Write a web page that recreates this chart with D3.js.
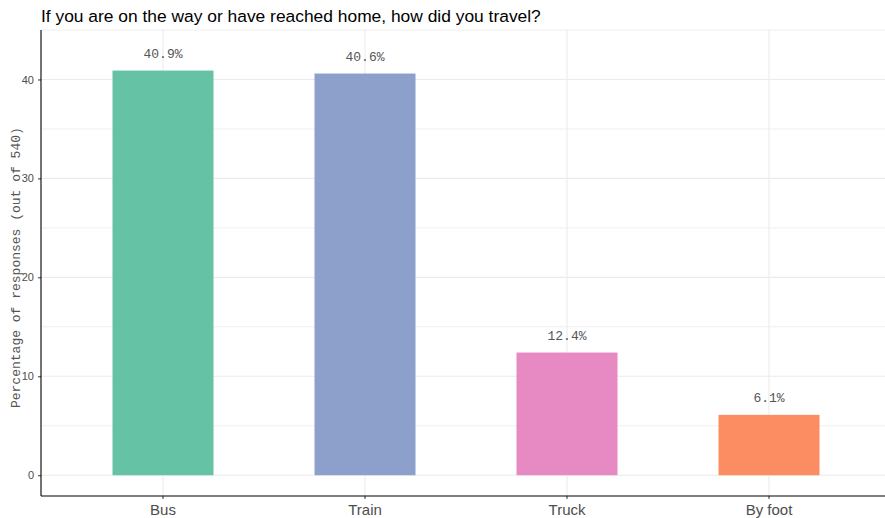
<!DOCTYPE html>
<html>
<head>
<meta charset="utf-8">
<script src="https://cdn.jsdelivr.net/npm/d3@7"></script>
<style>
  html, body { margin: 0; padding: 0; background: #fff; }
  svg { display: block; }
</style>
</head>
<body>
<svg id="chart" width="885" height="518"></svg>
<script>
const categories = ["Bus", "Train", "Truck", "By foot"];
const values = [40.9, 40.6, 12.4, 6.1];
const colors = ["#66c2a5", "#8da0cb", "#e78ac3", "#fc8d62"];
const yTicks = [0, 10, 20, 30, 40];
const yMinor = [5, 15, 25, 35, 45];
const title = "If you are on the way or have reached home, how did you travel?";
const yTitle = "Percentage of responses (out of 540)";

const svg = d3.select("#chart");
const panel = { left: 41, right: 885, top: 30, bottom: 496 };

const x = d3.scaleBand().domain(categories).range([62, 870]).paddingInner(0).paddingOuter(0);
const y = d3.scaleLinear().domain([-2.1, 45]).range([panel.bottom, panel.top]);

const grid = svg.append("g");
grid.selectAll(".hmin").data(yMinor).enter().append("line")
  .attr("x1", panel.left).attr("x2", panel.right)
  .attr("y1", d => y(d)).attr("y2", d => y(d))
  .attr("stroke", "#ebebeb").attr("stroke-width", 0.8);
grid.selectAll(".hmaj").data(yTicks).enter().append("line")
  .attr("x1", panel.left).attr("x2", panel.right)
  .attr("y1", d => y(d)).attr("y2", d => y(d))
  .attr("stroke", "#ebebeb").attr("stroke-width", 1.1);
grid.selectAll(".vmaj").data(categories).enter().append("line")
  .attr("x1", d => x(d) + x.bandwidth() / 2).attr("x2", d => x(d) + x.bandwidth() / 2)
  .attr("y1", panel.top).attr("y2", panel.bottom)
  .attr("stroke", "#ebebeb").attr("stroke-width", 1.1);

svg.append("g").selectAll("rect").data(categories).enter().append("rect")
  .attr("x", d => x(d) + x.bandwidth() * 0.25)
  .attr("width", x.bandwidth() * 0.5)
  .attr("y", (d, i) => y(values[i]))
  .attr("height", (d, i) => y(0) - y(values[i]))
  .attr("fill", (d, i) => colors[i]);

svg.append("g").selectAll("text").data(categories).enter().append("text")
  .attr("x", d => x(d) + x.bandwidth() / 2)
  .attr("y", (d, i) => y(values[i]) - 13)
  .attr("text-anchor", "middle")
  .attr("font-family", "'Liberation Mono', 'DejaVu Sans Mono', monospace")
  .attr("font-size", 13)
  .attr("fill", "#555555")
  .text((d, i) => values[i].toFixed(1) + "%");

const yAxis = d3.axisLeft(y).tickValues(yTicks).tickSize(3).tickPadding(4);
const gy = svg.append("g").attr("transform", `translate(${panel.left},0)`).call(yAxis);
gy.select(".domain").remove();
gy.selectAll(".tick line").attr("stroke", "#333").attr("stroke-width", 1);
gy.selectAll(".tick text").attr("font-family", "'Liberation Sans', Arial, sans-serif")
  .attr("font-size", 11).attr("fill", "#4d4d4d");
svg.append("line").attr("x1", panel.left).attr("x2", panel.left)
  .attr("y1", panel.top).attr("y2", panel.bottom)
  .attr("stroke", "#000").attr("stroke-width", 1.1);

const xAxis = d3.axisBottom(x).tickSize(3).tickPadding(5);
const gx = svg.append("g").attr("transform", `translate(0,${panel.bottom})`).call(xAxis);
gx.select(".domain").remove();
gx.selectAll(".tick line").attr("stroke", "#333").attr("stroke-width", 1);
gx.selectAll(".tick text").attr("font-family", "'Liberation Sans', Arial, sans-serif")
  .attr("font-size", 15).attr("fill", "#4d4d4d");
svg.append("line").attr("x1", panel.left).attr("x2", panel.right)
  .attr("y1", panel.bottom).attr("y2", panel.bottom)
  .attr("stroke", "#000").attr("stroke-width", 1.1);

svg.append("text")
  .attr("transform", `translate(20,${(y(0) + y(45)) / 2 + 15}) rotate(-90)`)
  .attr("text-anchor", "middle")
  .attr("font-family", "'Liberation Mono', 'DejaVu Sans Mono', monospace")
  .attr("font-size", 13)
  .attr("fill", "#555555")
  .text(yTitle);

svg.append("text")
  .attr("x", 41).attr("y", 22)
  .attr("font-family", "'Liberation Sans', Arial, sans-serif")
  .attr("font-size", 17.4)
  .attr("fill", "#000")
  .text(title);
</script>
</body>
</html>
